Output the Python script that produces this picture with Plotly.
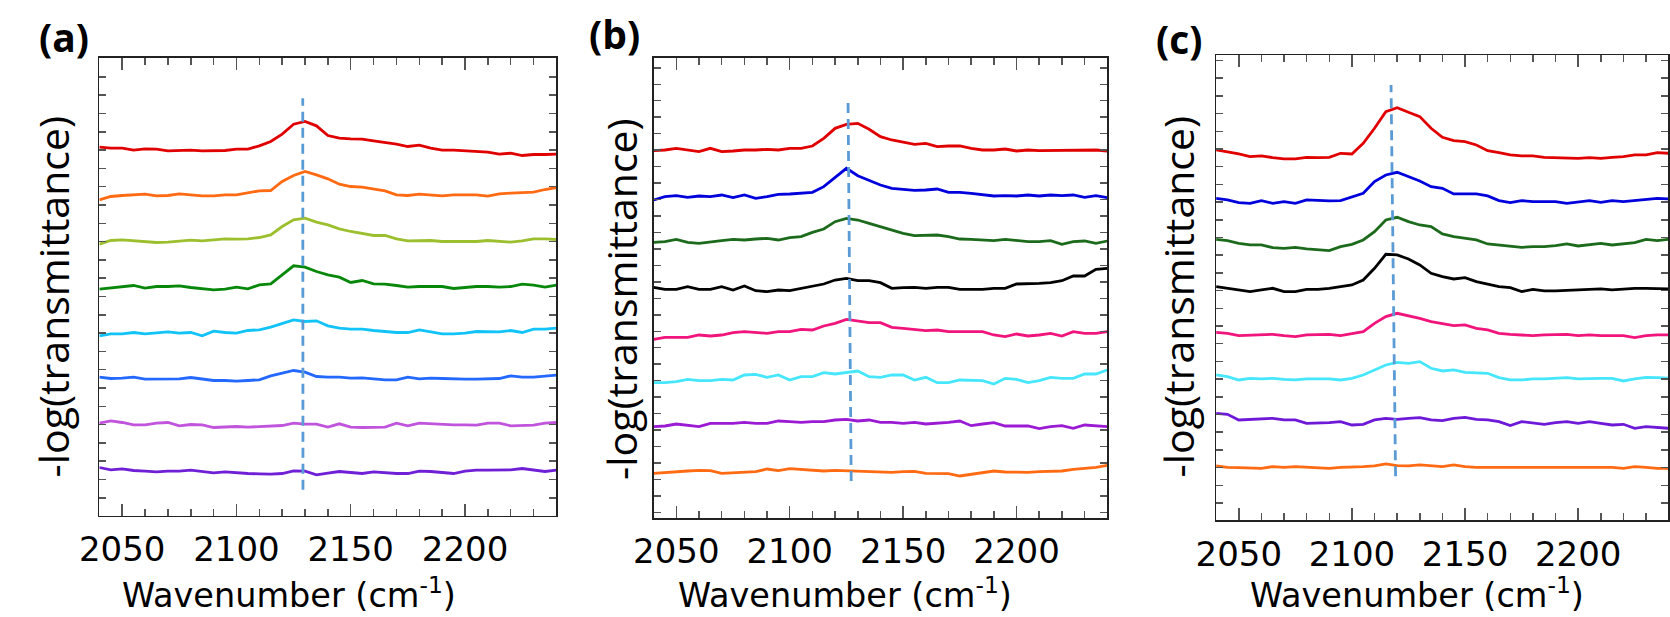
import plotly.graph_objects as go

# ---------------- data ----------------
WAVENUMBER = [2040, 2045, 2050, 2055, 2060, 2065, 2070, 2075, 2080, 2085, 2090, 2095, 2100, 2105,
              2110, 2115, 2120, 2125, 2130, 2135, 2140, 2145, 2150, 2155, 2160, 2165, 2170, 2175,
              2180, 2185, 2190, 2195, 2200, 2205, 2210, 2215, 2220, 2225, 2230, 2235, 2240]
X_TICKS = [2050, 2100, 2150, 2200]

# Panel (a), -log(T) in arbitrary units (stacked with offsets), top to bottom
A_RED = [1105,1102,1102,1096,1100,1099,1094,1095,1096,1094,1094,1095,1099,1099,1109,1122,1144,1174,1182,1169,1140,1132,1130,1129,1124,1120,1114,1107,1111,1102,1096,1096,1094,1090,1090,1084,1087,1080,1083,1083,1084]
A_ORANGE = [947,957,960,962,964,959,960,965,962,959,959,962,962,967,974,975,1002,1020,1032,1022,1010,994,987,985,980,974,962,960,964,962,959,962,962,962,958,965,967,969,970,978,984]
A_YELLOWGREEN = [814,825,827,824,822,819,820,822,826,824,827,830,829,830,834,842,867,887,892,880,872,860,852,845,840,840,830,824,824,825,822,822,822,822,825,822,820,824,830,830,828]
A_GREEN = [679,682,687,690,682,687,687,689,684,681,677,679,685,680,692,695,722,749,745,732,722,715,699,705,695,694,690,685,687,687,687,681,685,687,687,685,687,694,691,685,691]
A_CYAN = [539,545,545,549,545,547,551,547,549,539,553,549,547,555,557,565,577,587,582,584,569,562,559,559,555,551,549,549,557,551,545,545,547,552,551,551,555,549,559,559,562]
A_BLUE = [415,411,412,415,409,409,409,410,414,409,405,405,403,405,407,419,427,435,430,417,415,415,412,413,410,407,407,415,410,412,411,409,409,409,409,411,419,415,415,417,421]
A_ORCHID = [277,284,279,272,272,277,279,269,273,272,264,265,267,265,267,269,270,277,274,274,265,275,265,264,265,265,277,269,277,275,274,272,272,271,277,277,269,271,271,277,279]
A_VIOLET = [144,137,140,135,133,131,133,133,136,131,128,131,128,126,125,124,126,134,133,122,127,132,129,126,131,128,126,126,133,132,128,126,133,136,136,136,137,141,136,132,136]

# Panel (b)
B_RED = [1102,1104,1109,1104,1099,1109,1099,1101,1104,1104,1106,1104,1109,1109,1116,1139,1169,1181,1184,1166,1144,1134,1127,1121,1124,1114,1116,1116,1109,1104,1104,1107,1101,1104,1102,1102,1104,1102,1102,1104,1101]
B_BLUE = [954,964,967,962,966,964,969,961,969,959,964,971,972,974,977,994,1021,1049,1027,1014,999,989,985,983,984,987,977,977,974,969,966,967,966,969,966,969,967,969,962,967,961]
B_GREEN = [827,829,836,827,824,829,832,836,834,837,839,834,841,844,857,867,889,899,894,884,874,862,854,847,847,849,844,837,836,834,832,836,832,829,829,832,821,829,831,824,831]
B_BLACK = [692,686,686,694,686,686,694,684,696,682,679,684,682,689,696,702,714,719,712,712,706,689,691,692,689,692,692,686,686,686,689,689,702,702,704,706,712,726,726,746,749]
B_PINK = [536,542,542,542,549,546,549,556,559,556,554,559,559,566,564,576,584,596,592,586,586,572,569,566,562,564,559,559,559,559,549,544,552,546,549,554,546,559,554,554,559]
B_CYAN = [406,406,409,416,412,412,416,414,429,431,422,429,414,424,424,436,432,436,441,424,422,429,429,414,422,406,406,414,412,412,402,419,416,406,412,422,419,419,432,432,444]
B_PURPLE = [274,276,282,277,274,284,284,284,287,284,284,291,289,287,289,289,294,296,291,294,287,287,284,287,282,284,287,291,277,282,286,276,277,276,268,274,277,269,279,277,274]
B_ORANGE = [134,137,138,141,143,142,134,136,138,139,147,142,148,145,142,141,143,142,141,141,139,137,139,140,134,134,133,126,131,136,141,138,137,137,139,141,141,146,148,152,158]

# Panel (c)
C_RED = [1111,1106,1099,1091,1093,1088,1084,1084,1089,1088,1089,1101,1099,1131,1176,1226,1238,1224,1211,1176,1149,1139,1136,1126,1109,1103,1096,1093,1093,1089,1088,1088,1086,1088,1086,1089,1091,1096,1096,1103,1101]
C_BLUE = [966,961,953,951,959,951,956,951,961,959,958,959,969,981,1016,1036,1044,1031,1018,1001,996,979,978,979,973,959,953,959,956,956,956,951,956,959,954,959,956,959,963,966,964]
C_GREEN = [843,839,831,826,826,818,816,819,814,811,809,821,828,841,866,901,909,896,886,881,859,851,846,841,829,825,823,819,821,821,824,829,823,826,831,826,829,833,843,839,843]
C_BLACK = [701,696,691,686,691,696,686,686,693,693,696,701,706,721,756,798,796,784,766,741,731,724,728,716,708,701,698,686,693,688,688,689,691,691,694,691,694,696,696,696,694]
C_PINK = [564,561,554,556,556,558,554,551,556,558,558,554,561,566,591,611,621,614,606,596,589,584,586,576,571,561,558,556,554,556,556,558,554,556,554,553,554,548,554,556,556]
C_CYAN = [436,431,421,426,424,426,423,421,424,424,424,421,426,436,451,466,474,471,476,456,448,451,444,443,441,428,421,421,424,424,426,428,424,426,426,426,418,424,429,428,426]
C_VIOLET = [321,318,301,303,303,306,301,301,291,291,293,296,286,288,301,306,303,306,308,301,299,306,309,303,301,296,284,296,291,288,293,296,291,296,291,286,288,276,281,278,276]
C_ORANGE = [163,159,158,156,156,161,159,161,159,156,156,159,159,161,163,169,164,163,166,163,161,166,161,159,159,161,159,159,159,159,161,161,159,159,161,159,156,161,159,156,156]

# Peak marker lines: (wavenumber at bottom, wavenumber at top), (y bottom, y top)
PEAK_A_X = [2129.1, 2129.0]
PEAK_A_Y = [77, 1252]
PEAK_B_X = [2127.1, 2125.7]
PEAK_B_Y = [111, 1257]
PEAK_C_X = [2119.3, 2117.3]
PEAK_C_Y = [132, 1306]

# Y axis extents / tick spacing (arbitrary units, unlabeled)
A_YRANGE, A_TICK0, A_DTICK = [0, 1372.8], 53, 54.9
B_YRANGE, B_TICK0, B_DTICK = [0, 1380.3], 16.8, 49.4
C_YRANGE, C_TICK0, C_DTICK = [0, 1395.6], 52, 53.1

# ---------------- styles ----------------
RED = "#E00000"; ORANGE = "#FF6A13"; YG = "#9CBF2E"; GREEN = "#08880A"
CYAN_A = "#12C3F7"; BLUE_A = "#2469FF"; ORCHID = "#C154DC"; VIOLET_A = "#6F1FD6"
BLUE = "#0000DD"; DGREEN = "#1C6B1C"; BLACK = "#000000"; PINK = "#F0147C"
CYAN = "#46E6FC"; PURPLE = "#9B1AD4"; VIOLET = "#6E18D8"
DASH_COLOR = "#5B9BD5"

panels = [
    ([A_RED, A_ORANGE, A_YELLOWGREEN, A_GREEN, A_CYAN, A_BLUE, A_ORCHID, A_VIOLET],
     [RED, ORANGE, YG, GREEN, CYAN_A, BLUE_A, ORCHID, VIOLET_A], PEAK_A_X, PEAK_A_Y),
    ([B_RED, B_BLUE, B_GREEN, B_BLACK, B_PINK, B_CYAN, B_PURPLE, B_ORANGE],
     [RED, BLUE, DGREEN, BLACK, PINK, CYAN, PURPLE, ORANGE], PEAK_B_X, PEAK_B_Y),
    ([C_RED, C_BLUE, C_GREEN, C_BLACK, C_PINK, C_CYAN, C_VIOLET, C_ORANGE],
     [RED, BLUE, DGREEN, BLACK, PINK, CYAN, VIOLET, ORANGE], PEAK_C_X, PEAK_C_Y),
]

W, H = 1670, 617
FONT = "Open Sans"
XFONT = "DejaVu Sans"

fig = go.Figure()
for i, (series, colors, px, py) in enumerate(panels):
    xa = "x" if i == 0 else f"x{i+1}"
    ya = "y" if i == 0 else f"y{i+1}"
    for s, c in zip(series, colors):
        fig.add_trace(go.Scatter(x=WAVENUMBER, y=s, mode="lines", xaxis=xa, yaxis=ya,
                                 line=dict(color=c, width=2.8), hoverinfo="skip"))
    fig.add_trace(go.Scatter(x=px, y=py, mode="lines", xaxis=xa, yaxis=ya,
                             line=dict(color=DASH_COLOR, width=2.8, dash="10px,6px"),
                             hoverinfo="skip"))

def xax(domain, rng):
    return dict(domain=domain, range=rng, tickmode="array", tickvals=X_TICKS,
                ticktext=[str(t) for t in X_TICKS],
                ticks="inside", ticklen=12, tickwidth=1.5, tickcolor="#555555",
                minor=dict(ticks="inside", ticklen=7, tickwidth=1.5, tickcolor="#555555",
                           tickmode="linear", tick0=2040, dtick=10),
                showline=True, linecolor="#222222", linewidth=1.6, mirror="ticks",
                showgrid=False, zeroline=False, fixedrange=True,
                tickfont=dict(family=XFONT, size=34, color="#000000"),
                ticklabelstandoff=3)

def yax(domain, rng, t0, dt, anchor):
    return dict(domain=domain, range=rng, tickmode="linear", tick0=t0, dtick=dt,
                ticks="inside", ticklen=7, tickwidth=1.5, tickcolor="#555555",
                showticklabels=False, showline=True, linecolor="#222222", linewidth=1.6,
                mirror="ticks", showgrid=False, zeroline=False, fixedrange=True,
                anchor=anchor)

def px_x(v):
    return v / W

def px_y(v):
    return 1 - v / H

layout = dict(
    width=W, height=H, margin=dict(l=0, r=0, t=0, b=0),
    paper_bgcolor="white", plot_bgcolor="white", showlegend=False,
    xaxis=xax([px_x(80.4), px_x(543.6)], [2040, 2240]) | dict(anchor="y"),
    yaxis=yax([px_y(515.5), px_y(57.9)], A_YRANGE, A_TICK0, A_DTICK, "x"),
    xaxis2=xax([px_x(642.1), px_x(1101.8)], [2040, 2240]) | dict(anchor="y2"),
    yaxis2=yax([px_y(518.0), px_y(57.9)], B_YRANGE, B_TICK0, B_DTICK, "x2"),
    xaxis3=xax([px_x(1212.1), 1.0], [2040, 2239.7]) | dict(anchor="y3"),
    yaxis3=yax([px_y(520.3), px_y(55.1)], C_YRANGE, C_TICK0, C_DTICK, "x3"),
)
fig.update_layout(**layout)

ann = []
for lbl, cx, cy in [("(a)", 44.6, 36), ("(b)", 602, 33.5), ("(c)", 1174, 38)]:
    ann.append(dict(text=f"<b>{lbl}</b>", x=px_x(cx), y=px_y(cy), xref="paper", yref="paper",
                    showarrow=False, xanchor="center", yanchor="middle",
                    font=dict(family=FONT, size=39, color="#000000")))
for cx, cy in [(33, 297), (609, 299), (1173, 297)]:
    ann.append(dict(text="-log(transmittance)", x=px_x(cx), y=px_y(cy), xref="paper",
                    yref="paper", showarrow=False, textangle=-90, xanchor="center",
                    yanchor="middle", font=dict(family=FONT, size=41, color="#000000")))
for cx in [273, 836, 1416]:
    ann.append(dict(text="Wavenumber (cm<sup>-1</sup>)", x=px_x(cx), y=0,
                    xref="paper", yref="paper", showarrow=False, xanchor="center",
                    yanchor="bottom", font=dict(family=XFONT, size=33.5, color="#000000")))
fig.update_layout(annotations=ann)

fig.write_html("out.html", config={"displayModeBar": False, "staticPlot": True},
               post_script="document.body.style.margin='0px';"
                           "document.body.style.overflow='hidden';")
